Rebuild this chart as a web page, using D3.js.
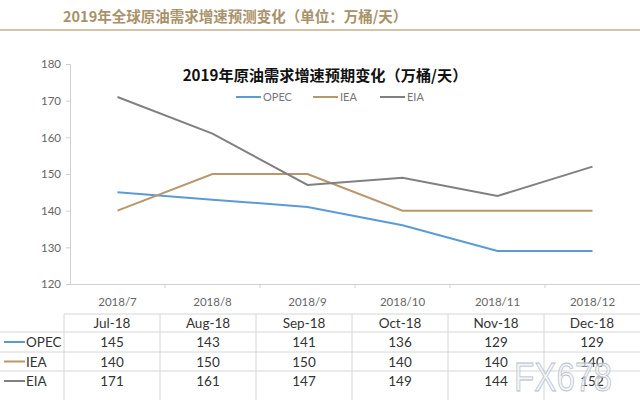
<!DOCTYPE html>
<html><head><meta charset="utf-8">
<script src="https://cdn.jsdelivr.net/npm/d3@7"></script>
<style>body{margin:0;background:#fff}svg{display:block}</style>
</head><body>
<svg id="c" width="640" height="400"></svg>
<script>
const categories = ["2018/7","2018/8","2018/9","2018/10","2018/11","2018/12"];
const tableHeaders = ["Jul-18","Aug-18","Sep-18","Oct-18","Nov-18","Dec-18"];
const seriesNames = ["OPEC","IEA","EIA"];
const opec = [145,143,141,136,129,129];
const iea  = [140,150,150,140,140,140];
const eia  = [171,161,147,149,144,152];
const yTicks = [120,130,140,150,160,170,180];
const colors = ["#5b9bd5","#b8976a","#808080"];
const series = [opec, iea, eia];

const svg = d3.select("#c");
const font = "'Noto Sans CJK SC','Noto Sans',sans-serif";
const cfont = "Lato,'Open Sans','Noto Sans',sans-serif";

// page header
svg.append("text").attr("x",63).attr("y",22).attr("font-family",font).attr("font-weight","bold")
  .attr("font-size",14.5).attr("fill","#a8926a").text("2019年全球原油需求增速预测变化（单位：万桶/天）");
svg.append("line").attr("x1",0).attr("x2",640).attr("y1",30).attr("y2",30).attr("stroke","#c7b18a").attr("stroke-width",1.5);

const x = d3.scaleBand().domain(categories).range([70,640]);
const y = d3.scaleLinear().domain([120,180]).range([284,64]);

// y axis
const ya = svg.append("g").attr("transform","translate(70,0)").call(d3.axisLeft(y).tickValues(yTicks).tickSize(4).tickPadding(5));
ya.selectAll("path,line").attr("stroke","#d0d0d0");
ya.selectAll("text").attr("fill","#666").attr("font-size",11.5).attr("font-family",cfont);
// x axis
const xa = svg.append("g").attr("transform","translate(0,284)").call(d3.axisBottom(x).tickSize(0).tickPadding(14));
xa.select("path").attr("stroke","#d0d0d0");
xa.selectAll("text").attr("fill","#666").attr("font-size",11.5).attr("font-family",cfont);
xa.selectAll(".bt").data(categories.slice(1)).enter().append("line")
  .attr("x1",d=>x(d)).attr("x2",d=>x(d)).attr("y1",0).attr("y2",4).attr("stroke","#d0d0d0");

// chart title
svg.append("text").attr("x",325).attr("y",81).attr("text-anchor","middle").attr("font-family",font)
  .attr("font-weight","bold").attr("font-size",15.2).attr("fill","#111").text("2019年原油需求增速预期变化（万桶/天）");

// legend
const legX = [236,313,380];
seriesNames.forEach((n,i)=>{
  svg.append("line").attr("x1",legX[i]).attr("x2",legX[i]+25).attr("y1",97).attr("y2",97).attr("stroke",colors[i]).attr("stroke-width",2);
  svg.append("text").attr("x",legX[i]+27).attr("y",101).attr("font-size",11).attr("font-family",cfont).attr("fill","#777").text(n);
});

// lines
const line = d3.line().x((d,i)=>x(categories[i])+x.bandwidth()/2).y(d=>y(d));
series.forEach((s,i)=>{
  svg.append("path").datum(s).attr("d",line).attr("fill","none").attr("stroke",colors[i]).attr("stroke-width",2);
});

// table
const colX = d3.scaleBand().domain(tableHeaders).range([64,640]);
const rowY = [314,332,352,371,391];
const grid = "#d6d6d6";
const tcol = "#333";
svg.append("line").attr("x1",64).attr("x2",640).attr("y1",rowY[0]).attr("y2",rowY[0]).attr("stroke",grid);
for (let r=1;r<4;r++) svg.append("line").attr("x1",0).attr("x2",640).attr("y1",rowY[r]).attr("y2",rowY[r]).attr("stroke",grid);
svg.append("line").attr("x1",64).attr("x2",64).attr("y1",rowY[0]).attr("y2",400).attr("stroke",grid);
tableHeaders.forEach((h,i)=>{
  if(i>0) svg.append("line").attr("x1",colX(h)).attr("x2",colX(h)).attr("y1",rowY[0]).attr("y2",400).attr("stroke",grid);
  svg.append("text").attr("x",colX(h)+colX.bandwidth()/2).attr("y",328).attr("text-anchor","middle")
    .attr("font-size",13.5).attr("font-family",cfont).attr("font-weight",400).attr("fill",tcol).text(h);
});
series.forEach((s,r)=>{
  const cy = (rowY[r+1]+rowY[r+2])/2;
  svg.append("line").attr("x1",4).attr("x2",25).attr("y1",cy).attr("y2",cy).attr("stroke",colors[r]).attr("stroke-width",2);
  svg.append("text").attr("x",26).attr("y",cy+5).attr("font-size",13.5).attr("font-family",cfont).attr("font-weight",400).attr("fill",tcol).text(seriesNames[r]);
  s.forEach((v,i)=>{
    svg.append("text").attr("x",colX(tableHeaders[i])+colX.bandwidth()/2).attr("y",cy+5).attr("text-anchor","middle")
      .attr("font-size",13.5).attr("font-family",cfont).attr("font-weight",400).attr("fill",tcol).text(v);
  });
});

// watermark
svg.append("text").attr("x",514).attr("y",391).attr("font-size",40).attr("font-family","'Liberation Sans',sans-serif")
  .attr("textLength",98).attr("lengthAdjust","spacingAndGlyphs")
  .attr("fill","#eef1f5").attr("fill-opacity",0.7).attr("stroke","#b5bdc9").attr("stroke-width",0.8).text("FX678");
</script>
</body></html>
